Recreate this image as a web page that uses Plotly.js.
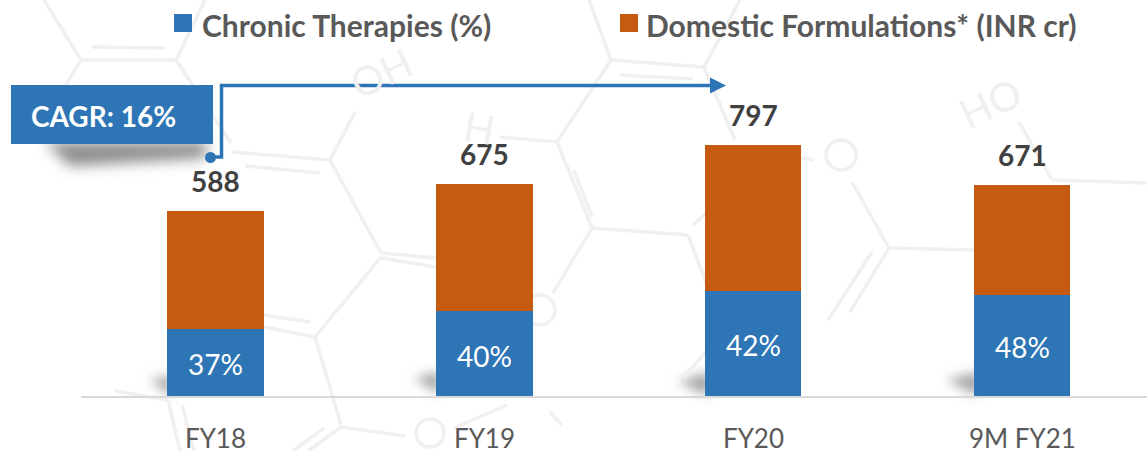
<!DOCTYPE html>
<html>
<head>
<meta charset="utf-8">
<script src="https://cdn.plot.ly/plotly-3.0.1.min.js"></script>
<style>html,body{margin:0;padding:0;background:#fff;overflow:hidden}#chart{width:1147px;height:451px}</style>
</head>
<body>
<div id="chart"></div>
<script>
const categories = ["FY18", "FY19", "FY20", "9M FY21"];
const chronicValues = [213, 270, 334, 322];
const domesticValues = [375, 405, 463, 349];
const totalValues = [588, 675, 797, 671];
const chronicLabels = ["37%", "40%", "42%", "48%"];
const seriesNames = ["Chronic Therapies (%)", "Domestic Formulations* (INR cr)"];
const calloutText = "CAGR: 16%";

const W = 1147, H = 451;
const BLUE = "#2E75B6", ORANGE = "#C55A11";
const FONT = "Lato, Carlito, sans-serif";
const px = x => x / W;
const py = y => 1 - y / H;

// Decorative molecule watermark, in page pixels
const wm = [
 [44,0,81,60],[81,60,176,60],[176,60,205,0],[92,47,165,48],[81,60,66,85],[176,60,231,143],
 [231,152,330,160],[245,166,320,173],[330,160,355,112],[330,160,381,253],
 [381,253,436,258],[381,258,436,267],[381,257,315,337],[264,315,310,322],[264,327,315,337],
 [315,337,341,425],[341,427,405,436],[341,427,308,451],[324,428,293,451],
 [115,391,168,400],[168,400,180,451],[182,405,194,451],
 [454,428,507,405],[550,412,562,425],
 [500,137,557,142],[557,142,611,60],[557,142,592,228],[589,0,611,60],[611,60,704,67],
 [704,67,740,0],[620,75,693,79],[704,67,735,140],[574,170,592,217],
 [592,228,688,235],[592,228,553,293],[688,235,708,288],[693,225,706,213],
 [801,158,814,160],[852,182,889,248],[889,248,975,250],[889,248,850,312],[872,252,828,320],
 [706,352,684,377],[1019,122,1052,180],[1052,180,1147,183]
];
const WM_COLOR = "#f0f0f0";
const wmShapes = wm.map(s => ({
  type:"line", xref:"paper", yref:"paper", layer:"below",
  x0:px(s[0]), y0:py(s[1]), x1:px(s[2]), y1:py(s[3]),
  line:{color:WM_COLOR, width:3.5}
}));
const wmCircle = (cx,cy,r) => ({
  type:"circle", xref:"paper", yref:"paper", layer:"below",
  x0:px(cx-r), x1:px(cx+r), y0:py(cy-r), y1:py(cy+r),
  line:{color:WM_COLOR, width:3.5}, fillcolor:"rgba(0,0,0,0)"
});
const wmText = (t,x,y,a) => ({
  text:t, xref:"paper", yref:"paper", x:px(x), y:py(y), xanchor:"center", yanchor:"middle",
  showarrow:false, textangle:a, font:{family:FONT, size:40, color:WM_COLOR}
});

// Soft drop shadows
const shadowSvg = `<svg xmlns="http://www.w3.org/2000/svg" width="${W}" height="${H}">
<defs><filter id="b" x="-50%" y="-100%" width="200%" height="300%"><feGaussianBlur stdDeviation="7"/></filter>
<filter id="c" x="-100%" y="-100%" width="300%" height="300%"><feGaussianBlur stdDeviation="6"/></filter></defs>
<polygon points="45,142 208,142 205,158 70,166" fill="#8c8c8c" filter="url(#b)"/>
<polygon points="150,380 172,376 172,396" fill="#a0a0a0" filter="url(#c)"/>
<polygon points="414,378 440,372 440,394" fill="#a0a0a0" filter="url(#c)"/>
<polygon points="678,382 710,372 710,396" fill="#a0a0a0" filter="url(#c)"/>
<polygon points="946,380 979,372 979,396" fill="#a0a0a0" filter="url(#c)"/>
</svg>`;

const traces = [
 { type:"bar", name:seriesNames[0], x:categories, y:chronicValues, width:0.357,
   marker:{color:BLUE}, hoverinfo:"x+y", legend:"legend" },
 { type:"bar", name:seriesNames[1], x:categories, y:domesticValues, width:0.357,
   marker:{color:ORANGE}, hoverinfo:"x+y", legend:"legend2" }
];

const totalAnnotations = categories.map((c,i) => ({
  x:c, y:totalValues[i], xref:"x", yref:"y", yshift:30, xanchor:"center", yanchor:"middle",
  text:"<b>"+totalValues[i]+"</b>", showarrow:false,
  font:{family:FONT, size:28, color:"#404040"}
}));
const chronicAnnotations = categories.map((c,i) => ({
  x:c, y:chronicValues[i]/2, xref:"x", yref:"y", yshift:-2, xanchor:"center", yanchor:"middle",
  text:chronicLabels[i], showarrow:false,
  font:{family:FONT, size:28, color:"#ffffff"}
}));
const legendBase = {
  y:py(-1), xanchor:"left", yanchor:"top", itemclick:false, itemdoubleclick:false,
  bgcolor:"rgba(0,0,0,0)", font:{family:FONT, size:30, weight:700, color:"#595959"}
};

const layout = {
  width:W, height:H, margin:{l:0,r:0,t:0,b:0,autoexpand:false},
  paper_bgcolor:"#ffffff", plot_bgcolor:"rgba(0,0,0,0)", barmode:"stack",
  bargap:0.64,
  xaxis:{domain:[81/W,1], type:"category", categoryorder:"array", categoryarray:categories,
    range:[-0.5,3.463], showgrid:false, zeroline:false, showline:true, linecolor:"#d9d9d9", linewidth:2,
    ticks:"", ticklabelstandoff:19, fixedrange:true,
    tickfont:{family:FONT, size:26, color:"#595959"}},
  yaxis:{domain:[1-396/H,1], range:[0,1258], visible:false, fixedrange:true},
  showlegend:true,
  legend:Object.assign({x:px(162)}, legendBase),
  legend2:Object.assign({x:px(606)}, legendBase),
  images:[{source:"data:image/svg+xml;utf8,"+encodeURIComponent(shadowSvg), xref:"paper", yref:"paper",
    x:0, y:1, sizex:1, sizey:1, xanchor:"left", yanchor:"top", sizing:"stretch", layer:"below"}],
  shapes: wmShapes.concat([
    wmCircle(430,433,14), wmCircle(540,310,15), wmCircle(841,155,15),
    {type:"rect", xref:"paper", yref:"paper", x0:px(174), x1:px(192), y0:py(14), y1:py(32), fillcolor:BLUE, line:{width:0}},
    {type:"rect", xref:"paper", yref:"paper", x0:px(620), x1:px(638), y0:py(14), y1:py(32), fillcolor:ORANGE, line:{width:0}},
    {type:"rect", xref:"paper", yref:"paper", x0:px(11), x1:px(213), y0:py(85), y1:py(144),
      fillcolor:BLUE, line:{width:0}},
    {type:"path", xref:"paper", yref:"paper",
      path:`M${px(210)},${py(157)} L${px(221.5)},${py(157)} L${px(221.5)},${py(85.5)} L${px(712)},${py(85.5)}`,
      line:{color:BLUE, width:3.5}, fillcolor:"rgba(0,0,0,0)"},
    {type:"path", xref:"paper", yref:"paper",
      path:`M${px(710)},${py(77.5)} L${px(726)},${py(85.5)} L${px(710)},${py(93.5)} Z`,
      line:{width:0}, fillcolor:BLUE},
    {type:"circle", xref:"paper", yref:"paper", x0:px(205), x1:px(216), y0:py(152), y1:py(163),
      line:{width:0}, fillcolor:BLUE}
  ]),
  annotations: totalAnnotations.concat(chronicAnnotations, [
    {text:"<b>"+calloutText+"</b>", xref:"paper", yref:"paper", x:px(31), y:py(116), xanchor:"left", yanchor:"middle",
      showarrow:false, xshift:-2, font:{family:FONT, size:28, color:"#ffffff"}},
    wmText("OH",381,73,-25), wmText("H",480,128,10), wmText("HO",990,103,-25)
  ])
};
Plotly.newPlot("chart", traces, layout, {displayModeBar:false});
</script>
</body>
</html>
